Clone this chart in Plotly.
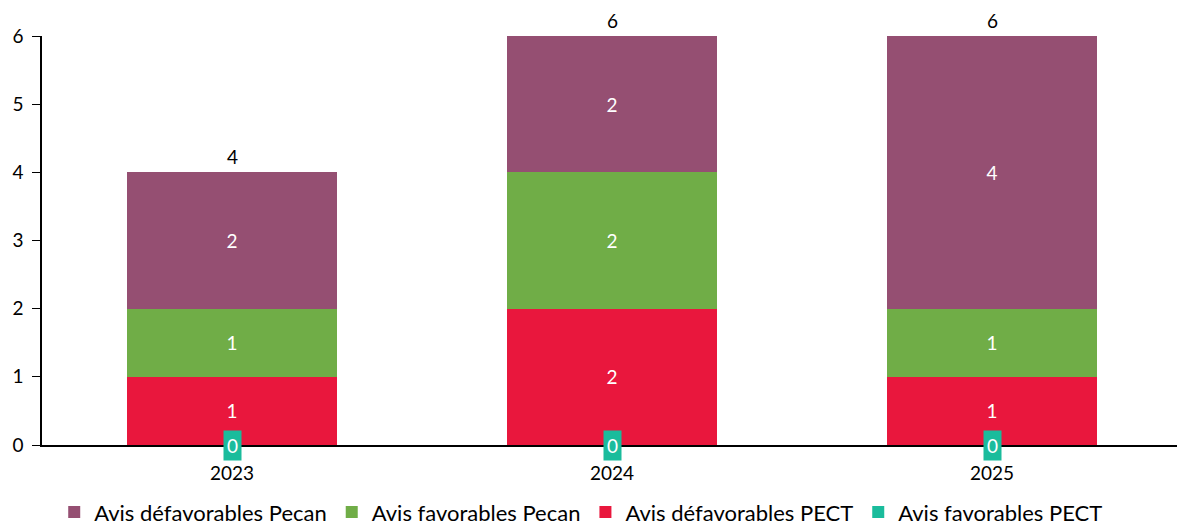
import plotly.graph_objects as go

years = ["2023", "2024", "2025"]
favorables_pect = [0, 0, 0]
defavorables_pect = [1, 2, 1]
favorables_pecan = [1, 2, 1]
defavorables_pecan = [2, 2, 4]
totals = [4, 6, 6]

FONT = "Lato, 'Open Sans', sans-serif"

fig = go.Figure()

# stacked from bottom to top
fig.add_trace(go.Bar(x=years, y=favorables_pect, name="Avis favorables PECT",
                     marker_color="#1ABC9C"))
fig.add_trace(go.Bar(x=years, y=defavorables_pect, name="Avis défavorables PECT",
                     marker_color="#E9173D", text=defavorables_pect))
fig.add_trace(go.Bar(x=years, y=favorables_pecan, name="Avis favorables Pecan",
                     marker_color="#70AD47", text=favorables_pecan))
fig.add_trace(go.Bar(x=years, y=defavorables_pecan, name="Avis défavorables Pecan",
                     marker_color="#954F72", text=defavorables_pecan))

fig.update_traces(textposition="inside", insidetextanchor="middle",
                  textfont=dict(color="white", size=19, family=FONT),
                  marker_line_width=0)

# totals above each bar (category index, since year names look numeric)
for i, tot in enumerate(totals):
    fig.add_annotation(x=i, y=tot, text=str(tot), showarrow=False,
                       yanchor="bottom", yshift=2,
                       font=dict(color="black", size=19, family=FONT))

# zero labels for the empty series
for i, v in enumerate(favorables_pect):
    fig.add_annotation(x=i, y=v, text=str(v), showarrow=False,
                       yanchor="middle", bgcolor="#1ABC9C", borderpad=3,
                       font=dict(color="white", size=19, family=FONT))

fig.update_layout(
    barmode="stack",
    bargap=0.445,
    width=1185, height=528,
    margin=dict(l=34, r=11, t=28, b=91),
    plot_bgcolor="white", paper_bgcolor="white",
    font=dict(family=FONT, size=19, color="black"),
    showlegend=True,
    legend=dict(orientation="h", traceorder="reversed", x=0.473, xanchor="center",
                yref="container", y=0.045, yanchor="middle",
                font=dict(size=22, family=FONT), itemsizing="constant"),
)
fig.update_xaxes(type="category", automargin=False, showline=True,
                 linecolor="black", linewidth=1.5, ticks="", showgrid=False,
                 ticklabelstandoff=10, tickfont=dict(size=19))
fig.update_yaxes(range=[0, 6], dtick=1, automargin=False, showline=True,
                 linecolor="black", linewidth=1.5, ticks="outside", ticklen=8,
                 tickcolor="black", ticklabelstandoff=5,
                 showgrid=False, zeroline=False, tickfont=dict(size=19))

fig.write_html("out.html")
